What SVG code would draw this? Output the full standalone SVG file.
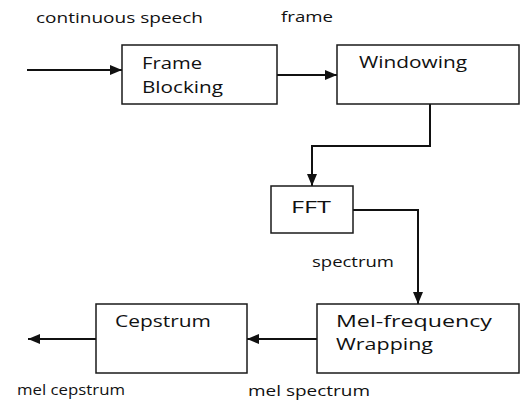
<svg xmlns="http://www.w3.org/2000/svg" width="520" height="403" viewBox="0 0 520 403">
  <style>
    .box { fill: #ffffff; stroke: #1a1a1a; stroke-width: 1.5; }
    .lbl { font-family: "Open Sans", "Liberation Sans", sans-serif; font-size: 16px; fill: #111111; }
    .cap { font-family: "Open Sans", "Liberation Sans", sans-serif; font-size: 14px; fill: #111111; }
    .wire { fill: none; stroke: #111111; stroke-width: 2; }
  </style>
  <defs>
    <marker id="arrow" viewBox="0 0 12 10" refX="12" refY="5" markerWidth="12" markerHeight="10" markerUnits="userSpaceOnUse" orient="auto">
      <path d="M0,0 L12,5 L0,10 Z" fill="#111111"/>
    </marker>
  </defs>

  <rect width="520" height="403" fill="#ffffff"/>

  <!-- signal captions -->
  <text class="cap" x="36" y="23" textLength="167" lengthAdjust="spacingAndGlyphs">continuous speech</text>
  <text class="cap" x="281" y="22" textLength="52" lengthAdjust="spacingAndGlyphs">frame</text>
  <text class="cap" x="312" y="267" textLength="82" lengthAdjust="spacingAndGlyphs">spectrum</text>
  <text class="cap" x="17" y="395" textLength="108" lengthAdjust="spacingAndGlyphs">mel cepstrum</text>
  <text class="cap" x="248" y="396" textLength="122" lengthAdjust="spacingAndGlyphs">mel spectrum</text>

  <!-- connectors -->
  <g id="connectors">
    <line class="wire" x1="27" y1="70" x2="122" y2="70" marker-end="url(#arrow)"/>
    <line class="wire" x1="277" y1="75" x2="337" y2="75" marker-end="url(#arrow)"/>
    <polyline class="wire" points="430,104 430,146 312,146 312,186" marker-end="url(#arrow)"/>
    <polyline class="wire" points="353,210 418,210 418,304" marker-end="url(#arrow)"/>
    <line class="wire" x1="317" y1="339" x2="247" y2="339" marker-end="url(#arrow)"/>
    <line class="wire" x1="96" y1="339" x2="28" y2="339" marker-end="url(#arrow)"/>
  </g>

  <!-- processing stages -->
  <g id="frame-blocking">
    <rect class="box" x="122" y="45" width="155" height="59"/>
    <text class="lbl" x="142" y="69" textLength="60" lengthAdjust="spacingAndGlyphs">Frame</text>
    <text class="lbl" x="142" y="93" textLength="81" lengthAdjust="spacingAndGlyphs">Blocking</text>
  </g>
  <g id="windowing">
    <rect class="box" x="337" y="45" width="182" height="59"/>
    <text class="lbl" x="359" y="68" textLength="108" lengthAdjust="spacingAndGlyphs">Windowing</text>
  </g>
  <g id="fft">
    <rect class="box" x="271" y="186" width="82" height="47"/>
    <text class="lbl" x="291" y="213" textLength="40" lengthAdjust="spacingAndGlyphs">FFT</text>
  </g>
  <g id="mel-frequency-wrapping">
    <rect class="box" x="317" y="304" width="202" height="69"/>
    <text class="lbl" x="336" y="327" textLength="156" lengthAdjust="spacingAndGlyphs">Mel-frequency</text>
    <text class="lbl" x="336" y="350" textLength="97" lengthAdjust="spacingAndGlyphs">Wrapping</text>
  </g>
  <g id="cepstrum">
    <rect class="box" x="96" y="304" width="151" height="69"/>
    <text class="lbl" x="115" y="327" textLength="96" lengthAdjust="spacingAndGlyphs">Cepstrum</text>
  </g>
</svg>
